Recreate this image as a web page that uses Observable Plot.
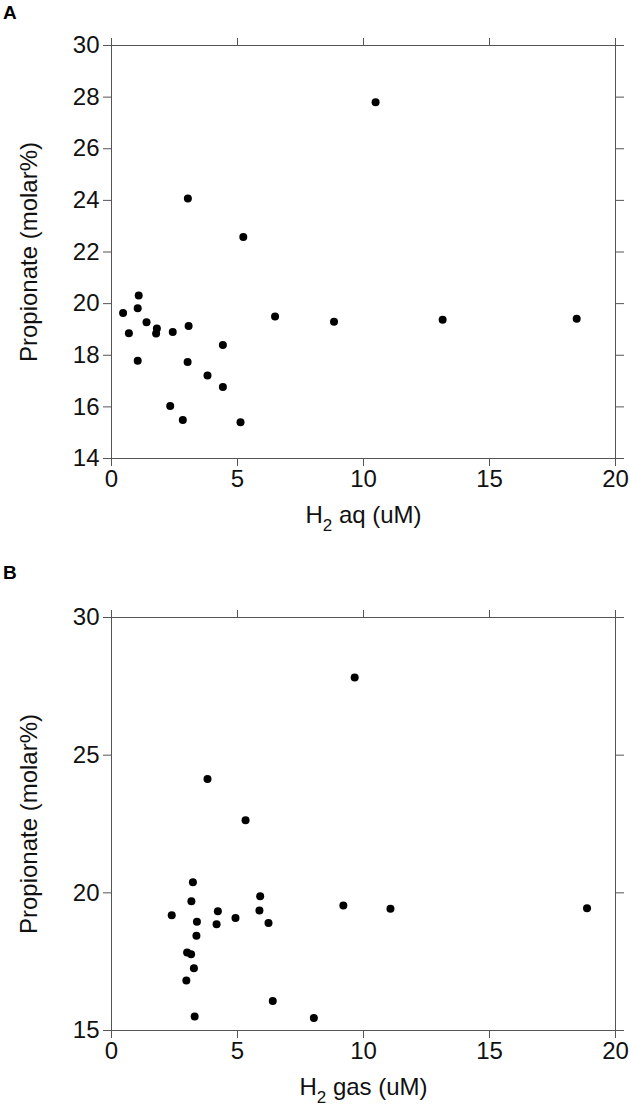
<!DOCTYPE html>
<html><head><meta charset="utf-8">
<script src="https://cdn.jsdelivr.net/npm/d3@7"></script>
<script src="https://cdn.jsdelivr.net/npm/@observablehq/plot@0.6"></script>
<style>
body{margin:0;background:#fff;font-family:"Liberation Sans",Arial,sans-serif}
#wrap{position:relative;width:630px;height:1113px;background:#fff}
#wrap svg{display:block}
.plabel{position:absolute;left:3px;font:bold 19px/19px "Liberation Sans",Arial,sans-serif;color:#000}
</style></head><body>
<div id="wrap"><div class="plabel" id="la" style="top:3px">A</div><div class="plabel" id="lb" style="top:563px">B</div></div>
<script>
// Panel A: H2 aq (uM) vs propionate (molar%)
const aqX = [1.08, 1.04, 0.46, 1.39, 0.69, 1.80, 1.77, 2.43, 3.06, 1.04, 4.42, 3.02, 3.81, 4.42, 2.33, 2.83, 5.12, 6.49, 8.83, 13.14, 18.46, 3.03, 5.23, 10.48];
const aqY = [20.31, 19.82, 19.64, 19.28, 18.85, 19.04, 18.84, 18.90, 19.13, 17.79, 18.40, 17.74, 17.22, 16.77, 16.03, 15.49, 15.40, 19.50, 19.30, 19.38, 19.41, 24.07, 22.58, 27.80];
// Panel B: H2 gas (uM) vs propionate (molar%)
const gasX = [3.23, 3.17, 2.39, 3.39, 3.37, 4.22, 4.17, 4.92, 5.90, 5.87, 6.23, 3.00, 3.16, 3.27, 2.97, 6.40, 3.30, 8.03, 9.20, 11.07, 18.87, 3.81, 5.32, 9.65];
const gasY = [20.38, 19.69, 19.19, 18.95, 18.44, 19.33, 18.86, 19.09, 19.88, 19.36, 18.90, 17.83, 17.77, 17.26, 16.82, 16.07, 15.51, 15.45, 19.54, 19.42, 19.44, 24.13, 22.64, 27.82];

const xTicks = [0, 5, 10, 15, 20];
const yTicksA = [14, 16, 18, 20, 22, 24, 26, 28, 30];
const yTicksB = [15, 20, 25, 30];
const yLabel = "Propionate (molar%)";
const xLabelA = "H2 aq (uM)";
const xLabelB = "H2 gas (uM)";

const AX = "#555";
const FONT = "'Liberation Sans', Arial, sans-serif";

function panel(xs, ys, yDomain, yTicks, xLabel, height, mTop, mBottom) {
  const data = xs.map((x, i) => ({x, y: ys[i]}));
  const svg = Plot.plot({
    width: 630, height,
    marginLeft: 111, marginRight: 15, marginTop: mTop, marginBottom: mBottom,
    style: {fontFamily: FONT, fontSize: "24px", color: "#111", background: "#fff"},
    x: {domain: [0, 20]},
    y: {domain: yDomain},
    marks: [
      Plot.frame({stroke: AX, strokeWidth: 1}),
      Plot.axisX({anchor: "bottom", ticks: xTicks, tickSize: 8, tickPadding: 3, stroke: AX, fontSize: 24,
        label: xLabel, labelAnchor: "center", labelArrow: "none", labelOffset: 64}),
      Plot.axisX({anchor: "top", ticks: xTicks, tickSize: 8, stroke: AX, tickFormat: () => "", label: null}),
      Plot.axisY({anchor: "left", ticks: yTicks, tickSize: 8, tickPadding: 4, stroke: AX, fontSize: 24,
        label: yLabel, labelAnchor: "center", labelArrow: "none", labelOffset: 92}),
      Plot.axisY({anchor: "right", ticks: yTicks, tickSize: 8, stroke: AX, tickFormat: () => "", label: null}),
      Plot.dot(data, {x: "x", y: "y", r: 4, fill: "#000", stroke: "none"})
    ]
  });
  // subscript 2 in H2
  svg.querySelectorAll("text").forEach(t => {
    if (t.textContent === xLabel) {
      const rest = xLabel.slice(2);
      t.textContent = "";
      const ns = "http://www.w3.org/2000/svg";
      const a = document.createElementNS(ns, "tspan"); a.textContent = "H";
      const b = document.createElementNS(ns, "tspan"); b.textContent = "2";
      b.setAttribute("font-size", "17"); b.setAttribute("dy", "8");
      const c = document.createElementNS(ns, "tspan"); c.textContent = rest;
      c.setAttribute("dy", "-8");
      t.append(a, b, c);
    }
  });
  return svg;
}

const wrap = document.getElementById("wrap");
wrap.append(panel(aqX, aqY, [14, 30], yTicksA, xLabelA, 560, 45, 102));
wrap.append(panel(gasX, gasY, [15, 30], yTicksB, xLabelB, 553, 57, 83));
</script>
</body></html>
